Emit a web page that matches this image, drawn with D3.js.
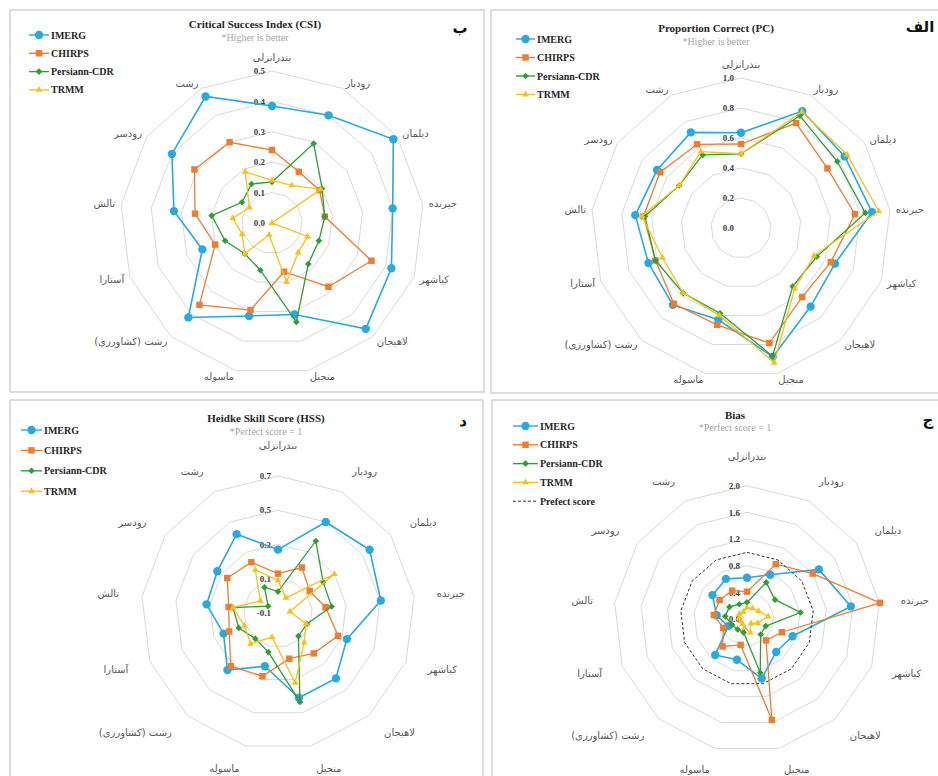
<!DOCTYPE html>
<html>
<head>
<meta charset="utf-8">
<script src="https://cdn.jsdelivr.net/npm/d3@7"></script>
<style>
  body { margin: 0; background: #fff; }
  svg { display: block; }
  .serif { font-family: "Liberation Serif", "Times New Roman", serif; }
  .fa { font-family: "DejaVu Sans", sans-serif; }
</style>
</head>
<body>
<svg id="chart" width="938" height="776"></svg>
<script>
// stations, clockwise from the top axis
const stations = ["بندرانزلی", "رودبار", "دیلمان", "جیرنده", "کیاشهر", "لاهیجان", "منجیل",
  "ماسوله", "رشت (کشاورزی)", "آستارا", "تالش", "رودسر", "رشت"];
const seriesNames = ["IMERG", "CHIRPS", "Persiann-CDR", "TRMM"];
const seriesColors = ["#27a9e1", "#ed7d31", "#2e9f35", "#f5c21b"];

// Proportion Correct (PC)
const pcImerg    = [0.635, 0.88, 0.84, 0.88, 0.67, 0.70, 0.885, 0.63, 0.685, 0.66, 0.71, 0.68, 0.72];
const pcChirps   = [0.56, 0.79, 0.70, 0.765, 0.64, 0.615, 0.79, 0.665, 0.675, 0.61, 0.655, 0.655, 0.63];
const pcPersiann = [0.495, 0.845, 0.78, 0.835, 0.54, 0.52, 0.88, 0.585, 0.58, 0.61, 0.645, 0.50, 0.55];
const pcTrmm     = [0.495, 0.875, 0.86, 0.925, 0.52, 0.54, 0.925, 0.60, 0.58, 0.56, 0.665, 0.50, 0.575];
const pcTicks = [0, 0.2, 0.4, 0.6, 0.8, 1.0];

// Critical Success Index (CSI)
const csiImerg    = [0.385, 0.40, 0.485, 0.40, 0.42, 0.465, 0.31, 0.315, 0.415, 0.245, 0.325, 0.40, 0.47];
const csiChirps   = [0.24, 0.19, 0.19, 0.175, 0.35, 0.28, 0.165, 0.295, 0.36, 0.20, 0.255, 0.31, 0.30];
const csiPersiann = [0.135, 0.295, 0.20, 0.175, 0.165, 0.18, 0.335, 0.16, 0.135, 0.165, 0.20, 0.12, 0.145];
const csiTrmm     = [0.14, 0.14, 0.195, 0.0, 0.125, 0.13, 0.20, 0.04, 0.135, 0.105, 0.13, 0.09, 0.19];
const csiTicks = [0, 0.1, 0.2, 0.3, 0.4, 0.5];

// Bias
const biasImerg    = [0.62, 0.75, 1.31, 1.57, 0.73, 0.66, 0.92, 0.63, 0.72, 0.30, 0.46, 0.63, 0.68];
const biasChirps   = [0.41, 0.93, 1.20, 2.01, 0.56, 0.43, 1.56, 0.40, 0.55, 0.38, 0.50, 0.50, 0.48];
const biasPersiann = [0.25, 0.62, 0.51, 0.81, 0.30, 0.31, 0.83, 0.21, 0.21, 0.24, 0.33, 0.32, 0.25];
const biasTrmm     = [0.17, 0.18, 0.21, 0.32, 0.17, 0.09, 0.21, 0.14, 0.10, 0.10, 0.12, 0.14, 0.12];
const biasPerfect  = [1, 1, 1, 1, 1, 1, 1, 1, 1, 1, 1, 1, 1];
const biasTicks = [0, 0.4, 0.8, 1.2, 1.6, 2.0];

// Heidke Skill Score (HSS)
const hssImerg    = [0.27, 0.50, 0.55, 0.505, 0.33, 0.41, 0.41, 0.22, 0.345, 0.24, 0.32, 0.33, 0.42];
const hssChirps   = [0.13, 0.20, 0.125, 0.18, 0.275, 0.215, 0.175, 0.28, 0.315, 0.205, 0.19, 0.26, 0.235];
const hssPersiann = [0.025, 0.375, 0.22, 0.215, 0.08, 0.08, 0.435, 0.135, 0.10, 0.145, 0.165, -0.03, 0.07];
const hssTrmm     = [0.09, 0.0, 0.30, -0.03, 0.075, 0.13, 0.32, 0.045, 0.14, 0.11, 0.165, 0.025, 0.185];
const hssTicks = [-0.1, 0.1, 0.3, 0.5, 0.7];

const svg = d3.select("#chart");
// circle, square, diamond (a square turned 45 degrees), triangle
const symbols = [d3.symbolCircle, d3.symbolSquare, d3.symbolSquare, d3.symbolTriangle];
const symbolSizes = [55, 42, 22, 20];
const symbolTurn = [0, 0, 45, 0];
const angle = d3.scaleLinear().domain([0, stations.length]).range([0, 2 * Math.PI]);

function drawRadar(opt) {
  const g = svg.append("g");

  // panel frame
  g.append("rect")
    .attr("x", opt.box[0]).attr("y", opt.box[1])
    .attr("width", opt.box[2]).attr("height", opt.box[3])
    .attr("fill", "#fff").attr("stroke", "#d2d2d2").attr("stroke-width", 1.5);

  const r = d3.scaleLinear().domain(d3.extent(opt.ticks)).range([0, opt.radius]);
  const plot = g.append("g").attr("transform", "translate(" + opt.cx + "," + opt.cy + ")");

  const radial = d3.lineRadial()
    .angle((d, i) => angle(i))
    .radius(d => r(d))
    .curve(d3.curveLinearClosed);

  // grid rings
  plot.selectAll(".ring")
    .data(opt.ticks.slice(1))
    .join("path")
    .attr("class", "ring")
    .attr("d", t => radial(stations.map(() => t)))
    .attr("fill", "none")
    .attr("stroke", "#d9d9d9")
    .attr("stroke-width", 1);

  // tick values on the top axis
  plot.selectAll(".tick")
    .data(opt.ticks)
    .join("text")
    .attr("class", "serif")
    .attr("x", -7)
    .attr("y", t => -r(t))
    .attr("dy", "0.35em")
    .attr("text-anchor", "end")
    .style("font-size", "9px")
    .style("font-weight", "bold")
    .attr("fill", "#404040")
    .text(t => t.toFixed(1));

  // station names
  stations.forEach((s, i) => {
    const a = angle(i), sin = Math.sin(a), cos = Math.cos(a);
    plot.append("text")
      .attr("class", "fa")
      .attr("x", sin * opt.labelRadius)
      .attr("y", -cos * opt.labelRadius - (cos > 0.99 ? 8 : 0))
      .attr("dy", "0.35em")
      .attr("text-anchor", Math.abs(sin) < 0.05 ? "middle" : (sin > 0 ? "start" : "end"))
      .style("font-size", "10px")
      .attr("fill", "#595959")
      .text("\u200F" + s + "\u200F");
  });

  // data series
  opt.series.forEach((vals, si) => {
    plot.append("path")
      .attr("d", radial(vals))
      .attr("fill", "none")
      .attr("stroke", seriesColors[si])
      .attr("stroke-width", si === 0 ? 1.6 : 1.3);
    plot.selectAll(null)
      .data(vals)
      .join("path")
      .attr("transform", (d, i) => "translate(" + (Math.sin(angle(i)) * r(d)) + "," +
        (-Math.cos(angle(i)) * r(d)) + ") rotate(" + symbolTurn[si] + ")")
      .attr("d", d3.symbol(symbols[si], symbolSizes[si]))
      .attr("fill", seriesColors[si]);
  });

  // perfect score reference
  if (opt.perfect) {
    plot.append("path")
      .attr("d", radial(opt.perfect))
      .attr("fill", "none")
      .attr("stroke", "#333")
      .attr("stroke-width", 1)
      .attr("stroke-dasharray", "3,2");
  }

  // title and note
  g.append("text").attr("class", "serif")
    .attr("x", opt.title[1]).attr("y", opt.title[2]).attr("dy", "0.35em")
    .attr("text-anchor", "middle")
    .style("font-size", "11px").style("font-weight", "bold")
    .attr("fill", "#262626")
    .text(opt.title[0]);
  g.append("text").attr("class", "serif")
    .attr("x", opt.title[1]).attr("y", opt.title[3]).attr("dy", "0.35em")
    .attr("text-anchor", "middle")
    .style("font-size", "10px")
    .attr("fill", "#a6a6a6")
    .text(opt.note);

  // panel letter
  g.append("text").attr("class", "fa")
    .attr("x", opt.letter[1]).attr("y", opt.letter[2]).attr("dy", "0.35em")
    .attr("text-anchor", "middle")
    .style("font-size", "15px").style("font-weight", "bold")
    .attr("fill", "#111")
    .text(opt.letter[0]);

  // legend
  const lg = opt.legend;
  seriesNames.forEach((name, li) => {
    const y = lg.y + li * lg.dy;
    g.append("line")
      .attr("x1", lg.x1).attr("x2", lg.x2).attr("y1", y).attr("y2", y)
      .attr("stroke", seriesColors[li]).attr("stroke-width", 1.4);
    g.append("path")
      .attr("transform", "translate(" + ((lg.x1 + lg.x2) / 2) + "," + y + ") rotate(" + symbolTurn[li] + ")")
      .attr("d", d3.symbol(symbols[li], symbolSizes[li]))
      .attr("fill", seriesColors[li]);
    g.append("text").attr("class", "serif")
      .attr("x", lg.x2 + 2).attr("y", y).attr("dy", "0.35em")
      .style("font-size", "10px").style("font-weight", "bold")
      .attr("fill", "#262626")
      .text(name);
  });
  if (opt.perfect) {
    const y = lg.y + 4 * lg.dy;
    g.append("line")
      .attr("x1", lg.x1).attr("x2", lg.x2).attr("y1", y).attr("y2", y)
      .attr("stroke", "#333").attr("stroke-width", 1).attr("stroke-dasharray", "3,2");
    g.append("text").attr("class", "serif")
      .attr("x", lg.x2 + 2).attr("y", y).attr("dy", "0.35em")
      .style("font-size", "10px").style("font-weight", "bold")
      .attr("fill", "#262626")
      .text("Prefect score");
  }
}

drawRadar({
  box: [10, 10, 474, 382], cx: 272, cy: 223, radius: 152, labelRadius: 158,
  ticks: csiTicks, series: [csiImerg, csiChirps, csiPersiann, csiTrmm],
  title: ["Critical Success Index (CSI)", 255, 24, 37], note: "*Higher is better",
  letter: ["ب", 460, 28],
  legend: { x1: 29, x2: 49, y: 35, dy: 18.3 }
});

drawRadar({
  box: [491, 10, 470, 383], cx: 741, cy: 228, radius: 150, labelRadius: 156,
  ticks: pcTicks, series: [pcImerg, pcChirps, pcPersiann, pcTrmm],
  title: ["Proportion Correct (PC)", 716, 28, 41], note: "*Higher is better",
  letter: ["الف", 920, 27],
  legend: { x1: 516, x2: 535, y: 39, dy: 18.5 }
});

drawRadar({
  box: [10, 400, 473, 390], cx: 278, cy: 613, radius: 137, labelRadius: 160,
  ticks: hssTicks, series: [hssImerg, hssChirps, hssPersiann, hssTrmm],
  title: ["Heidke Skill Score (HSS)", 266, 418, 431], note: "*Perfect score = 1",
  letter: ["د", 463, 421],
  legend: { x1: 21, x2: 42, y: 430, dy: 20.4 }
});

drawRadar({
  box: [492, 400, 470, 390], cx: 747, cy: 619, radius: 133.3, labelRadius: 155,
  ticks: biasTicks, series: [biasImerg, biasChirps, biasPersiann, biasTrmm],
  perfect: biasPerfect,
  title: ["Bias", 735, 415, 427], note: "*Perfect score = 1",
  letter: ["ج", 928, 420],
  legend: { x1: 513, x2: 538, y: 426, dy: 18.8 }
});
</script>
</body>
</html>
